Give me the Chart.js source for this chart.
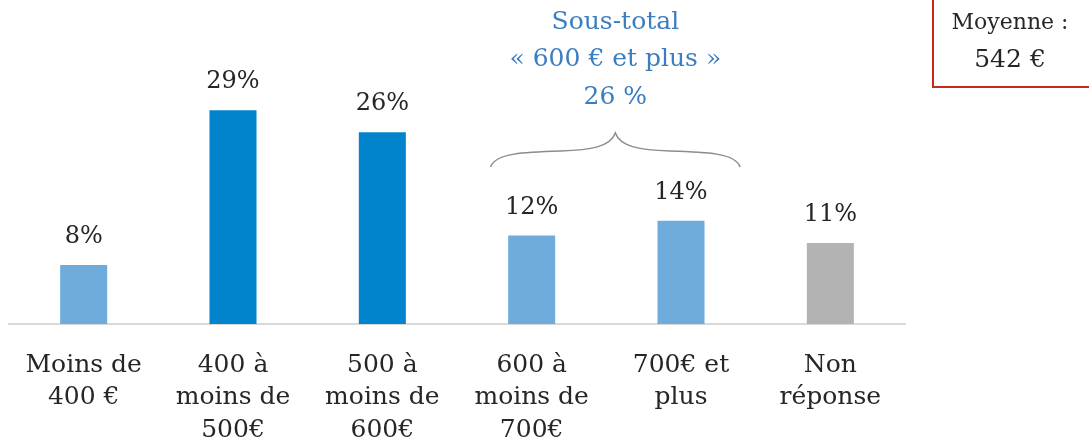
<!DOCTYPE html>
<html lang="fr">
<head>
<meta charset="utf-8">
<title>Budget mensuel</title>
<script src="https://cdn.jsdelivr.net/npm/chart.js@4/dist/chart.umd.min.js"></script>
<style>
    html, body { margin: 0; padding: 0; background: #ffffff; }
    #wrap { width: 1089px; height: 442px; position: relative; }
</style>
</head>
<body>
<div id="wrap"><canvas id="budgetChart"></canvas></div>
<script>
// Données
const categories = [
    ['Moins de', '400 €'],
    ['400 à', 'moins de', '500€'],
    ['500 à', 'moins de', '600€'],
    ['600 à', 'moins de', '700€'],
    ['700€ et', 'plus'],
    ['Non', 'réponse']
];
const percentages = [8, 29, 26, 12, 14, 11];
const barColors = ['#6FACDC', '#0284CC', '#0284CC', '#6FACDC', '#6FACDC', '#B3B3B3'];
const subtotalLines = ['Sous-total', '« 600 € et plus »', '26 %'];
const averageLines = ['Moyenne :', '542 €'];

const SERIF = "'DejaVu Serif', 'Liberation Serif', serif";
const TEXT_COLOR = '#262626';

// Étiquettes de valeur au-dessus des barres
const valueLabels = {
    id: 'valueLabels',
    afterDatasetsDraw(chart) {
        const ctx = chart.ctx;
        const meta = chart.getDatasetMeta(0);
        ctx.save();
        ctx.font = `24px ${SERIF}`;
        ctx.fillStyle = TEXT_COLOR;
        ctx.textAlign = 'center';
        ctx.textBaseline = 'middle';
        meta.data.forEach((bar, i) => {
            ctx.fillText(percentages[i] + '%', bar.x, bar.y - 28);
        });
        ctx.restore();
    }
};

// Accolade + sous-total + encadré moyenne
const annotations = {
    id: 'annotations',
    afterDraw(chart) {
        const ctx = chart.ctx;
        const meta = chart.getDatasetMeta(0);
        const left = meta.data[3].x - 41;
        const right = meta.data[4].x + 59;
        const mid = (left + right) / 2;
        const yEnd = 167, yTip = 133;

        ctx.save();
        ctx.strokeStyle = '#8C8C8C';
        ctx.lineWidth = 1.5;
        ctx.beginPath();
        ctx.moveTo(left, yEnd);
        ctx.bezierCurveTo(left + 4, 153, left + 35, 152, left + 70, 151);
        ctx.bezierCurveTo(mid - 25, 150, mid - 5, 147, mid, yTip);
        ctx.bezierCurveTo(mid + 5, 147, mid + 25, 150, right - 70, 151);
        ctx.bezierCurveTo(right - 35, 152, right - 4, 153, right, yEnd);
        ctx.stroke();

        ctx.fillStyle = '#3A7DC1';
        ctx.font = `25px ${SERIF}`;
        ctx.textAlign = 'center';
        ctx.textBaseline = 'middle';
        subtotalLines.forEach((line, i) => {
            ctx.fillText(line, mid, 22 + i * 37.5);
        });

        // encadré "Moyenne"
        ctx.strokeStyle = '#C8281E';
        ctx.lineWidth = 2;
        ctx.beginPath();
        ctx.moveTo(933, -2);
        ctx.lineTo(933, 87);
        ctx.lineTo(1092, 87);
        ctx.stroke();

        ctx.fillStyle = TEXT_COLOR;
        ctx.font = `22px ${SERIF}`;
        ctx.fillText(averageLines[0], 1010, 23);
        ctx.font = `25px ${SERIF}`;
        ctx.fillText(averageLines[1], 1010, 60);
        ctx.restore();
    }
};

new Chart(document.getElementById('budgetChart'), {
    type: 'bar',
    data: {
        labels: categories,
        datasets: [{
            data: percentages,
            backgroundColor: barColors,
            borderWidth: 0,
            categoryPercentage: 1,
            barPercentage: 0.315
        }]
    },
    options: {
        responsive: true,
        maintainAspectRatio: false,
        animation: false,
        layout: {
            padding: { top: 29, left: 9, right: 184, bottom: 0 }
        },
        plugins: {
            legend: { display: false },
            tooltip: { enabled: false }
        },
        scales: {
            y: {
                display: false,
                min: 0,
                max: 40
            },
            x: {
                grid: { display: false },
                border: { display: true, color: '#D9D9D9', width: 2 },
                ticks: {
                    color: TEXT_COLOR,
                    font: { family: SERIF, size: 25, lineHeight: 1.3 },
                    padding: 17,
                    maxRotation: 0,
                    autoSkip: false
                },
                afterFit(scale) {
                    scale.height = 118;
                }
            }
        }
    },
    plugins: [valueLabels, annotations]
});
</script>
</body>
</html>
